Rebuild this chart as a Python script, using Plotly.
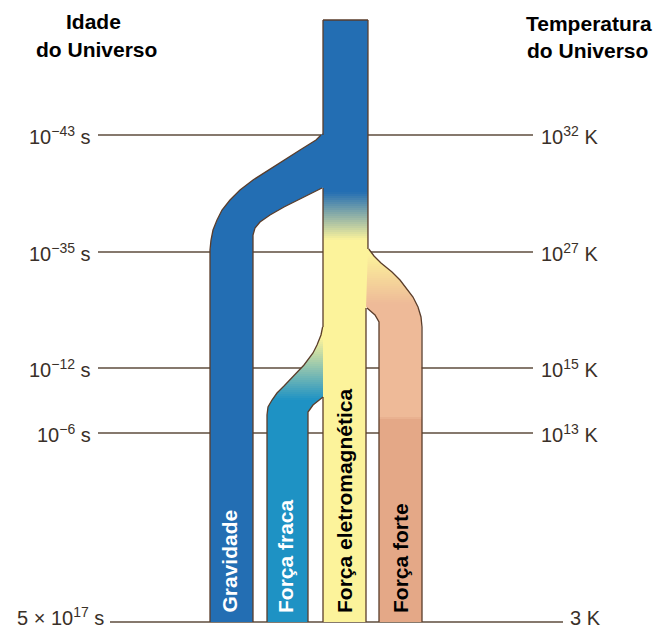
import numpy as np
import plotly.graph_objects as go

# ---------------- data (text & values) ----------------
age_labels = ["10<sup>−43</sup> s", "10<sup>−35</sup> s", "10<sup>−12</sup> s",
              "10<sup>−6</sup> s", "5 × 10<sup>17</sup> s"]
temp_labels = ["10<sup>32</sup> K", "10<sup>27</sup> K", "10<sup>15</sup> K",
               "10<sup>13</sup> K", "3 K"]
force_names = ["Gravidade", "Força fraca", "Força eletromagnética", "Força forte"]
header_left = ["Idade", "do Universo"]
header_right = ["Temperatura", "do Universo"]

# ---------------- diagram geometry (diagram units) ----------------
level_y = [135, 252, 368, 433, 622]          # epochs on the vertical time scale

# central trunk (unified force -> electromagnetic)
cen_l_y = [20, 622];  cen_l_x = [323, 323]
cen_r_y = [20, 248, 308, 622];  cen_r_x = [368, 368, 366, 366]
# gravity branch
gra_l_y = [133, 140, 150, 160, 170, 180, 190, 200, 210, 220, 230, 240, 250, 622]
gra_l_x = [323, 316, 300, 284, 268, 253, 240, 230, 222, 217, 213, 211, 210, 210]
gra_r_y = [133, 184, 188, 195, 200, 207, 215, 222, 228, 235, 622]
gra_r_x = [345, 340, 322, 308, 298, 284, 270, 260, 255, 253, 253]
# weak branch
wea_l_y = [325, 335, 345, 353, 365, 377, 386, 393, 400, 407, 415, 622]
wea_l_x = [323, 321, 317, 313, 304, 293, 284, 277, 272, 268, 267, 267]
wea_r_y = [325, 395, 397, 405, 412, 622]
wea_r_x = [340, 340, 323, 313, 308, 308]
# strong branch
str_l_y = [248, 300, 308, 315, 322, 622]
str_l_x = [355, 360, 367, 375, 379, 379]
str_r_y = [248, 256, 263, 272, 280, 290, 297, 307, 317, 327, 622]
str_r_x = [368, 374, 381, 392, 400, 408, 413, 418, 421, 422, 422]

BLUE = (35, 110, 179)
TEAL = (30, 146, 196)
YELLOW = (252, 243, 155)
SALMON_L = (238, 186, 152)
SALMON = (228, 168, 135)

cen_stop_y = [20, 192, 240, 622]; cen_stop_c = [BLUE, BLUE, YELLOW, YELLOW]
gra_stop_y = [133, 622];          gra_stop_c = [BLUE, BLUE]
wea_stop_y = [325, 338, 400, 622]; wea_stop_c = [YELLOW, YELLOW, TEAL, TEAL]
str_stop_y = [248, 254, 304, 417, 419, 622]
str_stop_c = [YELLOW, YELLOW, SALMON_L, SALMON_L, SALMON, SALMON]

OUTLINE = "#5a3d2b"
GUIDE = "#5e4c3c"
TXT = "#3a3028"
FONT = "Liberation Sans, Arial, sans-serif"

fig = go.Figure()

# guide lines (behind bands)
guide_x0 = [98, 98, 98, 98, 110]
guide_x1 = [533, 533, 533, 533, 563]
for y, x0, x1 in zip(level_y, guide_x0, guide_x1):
    fig.add_trace(go.Scatter(x=[x0, x1], y=[y, y], mode="lines",
                             line=dict(color=GUIDE, width=1.6),
                             hoverinfo="skip", showlegend=False))


def add_band(ly, lx, ry, rx, sy, sc, step=2.0):
    y_top = max(ly[0], ry[0]); y_bot = min(ly[-1], ry[-1])
    bps = {y_top, y_bot}
    for i in range(len(sy) - 1):
        a, b = sy[i], sy[i + 1]
        bps.update([a, b])
        if sc[i] != sc[i + 1]:
            bps.update(np.arange(a, b, step).tolist())
    bps = sorted(b for b in bps if y_top <= b <= y_bot)
    edge_ys = sorted(set(ly) | set(ry))
    for ya, yb in zip(bps[:-1], bps[1:]):
        yb2 = min(yb + 0.8, y_bot)
        ys = np.array([ya] + [y for y in edge_ys if ya < y < yb2] + [yb2], float)
        xl = np.interp(ys, ly, lx)
        xr = np.interp(ys, ry, rx)
        ym = (ya + yb) / 2
        col = [int(round(np.interp(ym, sy, [c[k] for c in sc]))) for k in range(3)]
        px = np.concatenate([xl, xr[::-1], xl[:1]])
        py = np.concatenate([ys, ys[::-1], ys[:1]])
        fig.add_trace(go.Scatter(x=px, y=py, mode="lines", fill="toself",
                                 fillcolor="rgb(%d,%d,%d)" % tuple(col),
                                 line=dict(width=0, color="rgba(0,0,0,0)"),
                                 hoverinfo="skip", showlegend=False))


add_band(gra_l_y, gra_l_x, gra_r_y, gra_r_x, gra_stop_y, gra_stop_c)
add_band(wea_l_y, wea_l_x, wea_r_y, wea_r_x, wea_stop_y, wea_stop_c)
add_band(str_l_y, str_l_x, str_r_y, str_r_x, str_stop_y, str_stop_c)
add_band(cen_l_y, cen_l_x, cen_r_y, cen_r_x, cen_stop_y, cen_stop_c)


def edge_line(ey, ex, y0, y1):
    ys = np.array([y0] + [y for y in ey if y0 < y < y1] + [y1], float)
    xs = np.interp(ys, ey, ex)
    fig.add_trace(go.Scatter(x=xs, y=ys, mode="lines",
                             line=dict(color=OUTLINE, width=1.3),
                             hoverinfo="skip", showlegend=False))


# visible outlines
edge_line(cen_l_y, cen_l_x, 20, 135)
edge_line(cen_l_y, cen_l_x, 188, 327)
edge_line(cen_l_y, cen_l_x, 397, 622)
edge_line(cen_r_y, cen_r_x, 20, 249)
edge_line(cen_r_y, cen_r_x, 308, 622)
fig.add_trace(go.Scatter(x=[cen_l_x[0], cen_r_x[0]], y=[cen_l_y[0], cen_r_y[0]],
                         mode="lines", line=dict(color=OUTLINE, width=1.3),
                         hoverinfo="skip", showlegend=False))
edge_line(gra_l_y, gra_l_x, 135, 622)
edge_line(gra_r_y, gra_r_x, 188, 622)
edge_line(wea_l_y, wea_l_x, 327, 622)
edge_line(wea_r_y, wea_r_x, 397, 622)
edge_line(str_l_y, str_l_x, 308, 622)
edge_line(str_r_y, str_r_x, 249, 622)

# level labels
label_x_left = [93, 93, 93, 93, 106]
label_x_right = [539, 539, 539, 539, 568]
for i, (y, t, xl) in enumerate(zip(level_y, age_labels, label_x_left)):
    last = i == len(level_y) - 1
    fig.add_annotation(x=xl, y=631 if last else y, text=t, showarrow=False,
                       xanchor="right", yanchor="bottom" if last else "middle",
                       font=dict(family=FONT, size=20, color=TXT))
for i, (y, t, xr) in enumerate(zip(level_y, temp_labels, label_x_right)):
    last = i == len(level_y) - 1
    fig.add_annotation(x=xr, y=631 if last else y, text=t, showarrow=False,
                       xanchor="left", yanchor="bottom" if last else "middle",
                       font=dict(family=FONT, size=20, color=TXT))

# headers
for txt, xc, yc in zip(header_left, [93, 96], [21, 49]):
    fig.add_annotation(x=xc, y=yc, text="<b>%s</b>" % txt, showarrow=False,
                       xanchor="center", yanchor="middle",
                       font=dict(family=FONT, size=21, color="#000000"))
for txt, xc, yc in zip(header_right, [589, 587], [23, 50]):
    fig.add_annotation(x=xc, y=yc, text="<b>%s</b>" % txt, showarrow=False,
                       xanchor="center", yanchor="middle",
                       font=dict(family=FONT, size=21, color="#000000"))

# force names inside the bands
band_centers = [229, 285, 344, 400]
band_text_colors = ["#ffffff", "#ffffff", "#000000", "#000000"]
for name, xc, c in zip(force_names, band_centers, band_text_colors):
    fig.add_annotation(x=xc, y=615, text="<b>%s</b>" % name, showarrow=False,
                       textangle=-90, xanchor="center", yanchor="bottom",
                       font=dict(family=FONT, size=21, color=c))

fig.update_layout(
    width=660, height=632, margin=dict(l=0, r=0, t=0, b=0),
    paper_bgcolor="white", plot_bgcolor="white", showlegend=False,
    xaxis=dict(range=[0, 660], visible=False, fixedrange=True),
    yaxis=dict(range=[632, 0], visible=False, fixedrange=True),
)
fig.write_html("out.html", config={"displayModeBar": False},
               post_script="document.body.style.margin='0';document.body.style.overflow='hidden';")
